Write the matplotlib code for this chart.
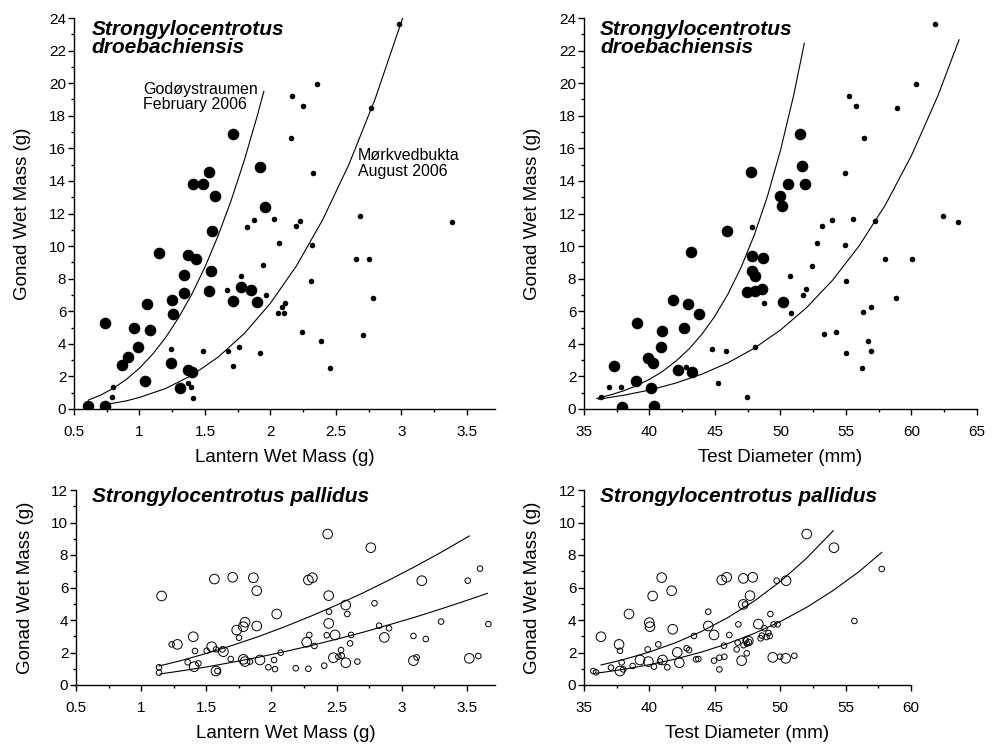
import matplotlib
matplotlib.use("Agg")
import matplotlib.pyplot as plt
from matplotlib.ticker import MultipleLocator, FuncFormatter

plt.rcParams['font.family'] = ['Liberation Sans', 'DejaVu Sans']

# ---- S. droebachiensis, lantern wet mass (g) vs gonad wet mass (g)
# Godøystraumen (large dots)
lan_god = [0.61, 0.737, 0.737, 0.87, 0.91, 0.958, 0.991, 1.06, 1.083, 1.044, 1.151, 1.238,
           1.248, 1.256, 1.309, 1.342, 1.342, 1.373, 1.429, 1.373, 1.398, 1.406, 1.487, 1.533,
           1.576, 1.556, 1.543, 1.528, 1.716, 1.716, 1.779, 1.848, 1.901, 1.922, 1.955]
gon_god_l = [0.16, 0.2, 5.3, 2.7, 3.17, 4.95, 3.82, 6.44, 4.83, 1.7, 9.6, 2.8,
             6.69, 5.82, 1.3, 7.15, 8.2, 9.47, 9.22, 2.39, 2.29, 13.8, 13.8, 14.54,
             13.05, 10.9, 8.47, 7.24, 16.87, 6.65, 7.48, 7.28, 6.56, 14.88, 12.42]
# Mørkvedbukta (small dots)
lan_mor = [0.8, 0.793, 1.238, 1.373, 1.39, 1.41, 1.487, 1.665, 1.678, 1.716, 1.759, 1.774,
           1.823, 1.875, 1.945, 1.92, 1.965, 2.025, 2.065, 2.057, 2.105, 2.086, 2.111, 2.983,
           2.353, 2.167, 2.25, 2.765, 2.157, 2.322, 2.192, 2.225, 2.683, 3.388, 2.314, 2.653,
           2.754, 2.307, 2.785, 2.238, 2.704, 2.386, 2.454]
gon_mor_l = [1.37, 0.75, 3.68, 1.58, 1.33, 0.65, 3.58, 7.32, 3.58, 2.62, 3.78, 8.14,
             11.15, 11.62, 8.81, 3.46, 6.97, 11.66, 10.18, 5.89, 5.89, 6.24, 6.5, 23.64,
             19.94, 19.22, 18.61, 18.47, 16.63, 14.48, 11.25, 11.57, 11.86, 11.47, 10.08, 9.22,
             9.22, 7.87, 6.81, 4.70, 4.56, 4.15, 2.52]
# fitted curves
fit_god_lx = [0.61, 0.7, 0.8, 0.9, 1.0, 1.1, 1.2, 1.3, 1.4, 1.5, 1.6, 1.7, 1.8, 1.9, 1.95]
fit_god_ly = [0.55, 0.84, 1.27, 1.82, 2.51, 3.36, 4.39, 5.62, 7.05, 8.71, 10.63, 12.8,
              15.25, 18.01, 19.5]
fit_mor_lx = [0.74, 0.9, 1.0, 1.2, 1.4, 1.6, 1.8, 2.0, 2.2, 2.4, 2.6, 2.8, 3.01]
fit_mor_ly = [0.27, 0.5, 0.71, 1.26, 2.07, 3.18, 4.63, 6.49, 8.8, 11.63, 15.02, 19.04, 24.0]

# ---- S. droebachiensis, test diameter (mm)
td_god = [37.31, 37.88, 39.07, 38.97, 39.91, 40.29, 40.11, 40.37, 40.93, 40.88, 41.82, 42.96,
          43.78, 42.66, 42.15, 43.22, 43.14, 45.89, 47.75, 47.47, 47.8, 48.64, 47.85, 48.05,
          48.05, 48.56, 50.17, 51.49, 51.66, 50.6, 51.87, 50.0, 50.14]
gon_god_t = [2.65, 0.14, 5.29, 1.71, 3.14, 2.8, 1.31, 0.2, 4.8, 3.82, 6.69, 6.42,
             5.81, 4.95, 2.39, 2.27, 9.61, 10.94, 14.54, 7.16, 9.4, 9.26, 8.44, 8.18,
             7.22, 7.36, 6.55, 16.87, 14.89, 13.8, 13.8, 13.05, 12.43]
td_mor = [36.3, 36.91, 37.8, 42.79, 44.75, 45.84, 45.25, 47.42, 47.8, 48.76, 48.05, 50.73,
          50.8, 51.74, 51.95, 52.38, 52.81, 53.19, 53.91, 53.35, 54.24, 54.92, 54.92, 55.0,
          55.0, 55.25, 55.76, 55.56, 56.37, 56.27, 56.7, 56.88, 56.91, 56.24, 57.21, 57.98,
          58.87, 58.79, 60.01, 60.32, 61.79, 62.38, 63.57]
gon_mor_t = [0.76, 1.33, 1.33, 2.6, 3.66, 3.58, 1.6, 0.72, 11.15, 6.5, 3.78, 8.14,
             5.89, 6.97, 7.38, 8.75, 10.18, 11.25, 11.62, 4.6, 4.7, 14.48, 10.08, 7.87,
             3.44, 19.22, 18.61, 11.66, 16.63, 5.93, 4.15, 6.24, 3.54, 2.52, 11.57, 9.22,
             18.47, 6.81, 9.22, 19.94, 23.64, 11.86, 11.47]
fit_god_tx = [35.97, 37, 38, 39, 40, 41, 42, 43, 44, 45, 46, 47, 48, 49, 50, 51, 51.82]
fit_god_ty = [0.65, 0.86, 1.11, 1.43, 1.82, 2.31, 2.93, 3.67, 4.59, 5.71, 7.07, 8.71,
              10.68, 13.05, 15.88, 19.24, 22.45]
fit_mor_tx = [36.1, 38, 40, 42, 44, 46, 48, 50, 52, 54, 56, 58, 60, 62, 63.63]
fit_mor_ty = [0.6, 0.84, 1.16, 1.59, 2.14, 2.84, 3.73, 4.85, 6.23, 7.93, 10.01, 12.52,
              15.56, 19.2, 22.66]

# ---- S. pallidus, lantern wet mass (g)
pl_lan_big = [1.157, 1.562, 1.702, 1.861, 1.887, 2.04, 1.797, 1.784, 1.733, 1.887, 1.4, 1.278,
              1.541, 1.631, 1.406, 1.784, 1.797, 1.912, 1.574, 2.27, 2.283, 2.314, 2.431, 2.762,
              3.153, 2.439, 2.57, 2.439, 2.488, 2.866, 2.475, 2.57, 3.089, 3.518]
pl_gon_big_l = [5.48, 6.52, 6.63, 6.6, 5.8, 4.37, 3.86, 3.59, 3.38, 3.63, 2.97, 2.5,
                2.36, 2.05, 1.13, 1.58, 1.44, 1.54, 0.86, 2.63, 6.46, 6.6, 9.29, 8.45,
                6.42, 5.5, 4.92, 3.79, 3.08, 2.93, 1.68, 1.37, 1.5, 1.64]
pl_lan_small = [1.234, 1.413, 1.503, 1.574, 1.623, 1.751, 1.687, 1.357, 1.439, 1.835, 2.02, 2.071,
                1.976, 2.027, 2.186, 2.283, 1.137, 1.137, 1.585, 3.6, 3.506, 2.79, 2.442, 2.582,
                2.826, 2.902, 2.29, 2.424, 2.611, 3.301, 3.664, 3.089, 3.184, 2.329, 2.603, 2.534,
                2.513, 2.539, 2.659, 2.405, 3.114, 3.587]
pl_gon_small_l = [2.5, 2.09, 2.11, 2.19, 2.19, 2.91, 1.6, 1.4, 1.33, 1.44, 1.54, 1.99,
                  1.09, 0.98, 1.03, 1.0, 1.09, 0.76, 0.86, 7.16, 6.42, 5.03, 4.51, 4.37,
                  3.65, 3.49, 3.08, 3.06, 3.08, 3.9, 3.75, 3.02, 2.83, 2.4, 2.56, 2.15,
                  1.74, 1.8, 1.44, 1.19, 1.7, 1.78]
pl_fit_a_lx = [1.137, 1.3, 1.5, 1.7, 1.9, 2.1, 2.3, 2.5, 2.7, 2.9, 3.1, 3.3, 3.518]
pl_fit_a_ly = [1.17, 1.49, 1.94, 2.44, 2.98, 3.58, 4.23, 4.92, 5.66, 6.45, 7.28, 8.16, 9.17]
pl_fit_b_lx = [1.145, 1.3, 1.5, 1.7, 1.9, 2.1, 2.3, 2.5, 2.7, 2.9, 3.1, 3.3, 3.5, 3.657]
pl_fit_b_ly = [0.68, 0.86, 1.11, 1.4, 1.71, 2.05, 2.42, 2.82, 3.24, 3.7, 4.17, 4.68, 5.21, 5.64]

# ---- S. pallidus, test diameter (mm)
pl_td_big = [36.3, 37.68, 37.75, 38.44, 39.28, 39.92, 39.99, 40.05, 40.25, 40.94, 41.01, 41.7,
             41.78, 42.13, 42.29, 44.5, 44.94, 45.53, 45.91, 47.18, 47.9, 47.69, 47.18, 48.33,
             47.56, 47.05, 49.43, 50.42, 50.45, 52.03, 54.11]
pl_gon_big_t = [2.97, 2.5, 0.86, 4.37, 1.54, 1.44, 3.84, 3.59, 5.48, 6.61, 1.54, 5.8,
                3.43, 2.01, 1.37, 3.63, 3.08, 6.46, 6.63, 6.56, 6.63, 5.5, 4.96, 3.75,
                2.71, 1.5, 1.7, 1.64, 6.42, 9.29, 8.45]
pl_td_small = [35.71, 35.92, 37.06, 37.75, 37.88, 38.0, 38.72, 39.87, 40.35, 40.68, 40.81, 41.37,
               42.85, 43.03, 43.41, 43.56, 43.74, 44.5, 44.94, 45.35, 45.35, 45.73, 45.7, 46.11,
               46.67, 46.8, 46.75, 47.2, 47.35, 47.45, 47.6, 47.31, 47.44, 48.5, 48.6, 48.8,
               49.2, 49.5, 49.25, 49.73, 51.08, 50.0, 57.76, 55.67, 49.8, 48.95, 49.1]
pl_gon_small_t = [0.86, 0.78, 1.07, 2.11, 1.39, 0.96, 1.17, 2.19, 1.13, 2.5, 1.44, 1.09,
                  2.26, 2.15, 3.02, 1.58, 1.6, 4.51, 1.5, 1.68, 0.96, 1.74, 2.42, 3.08,
                  2.19, 3.73, 2.61, 2.45, 2.75, 2.55, 2.65, 4.96, 1.95, 2.87, 3.04, 3.49,
                  3.02, 3.73, 4.37, 6.42, 1.8, 1.74, 7.14, 3.94, 3.73, 2.95, 3.2]
pl_fit_a_tx = [36.3, 38, 40, 42, 44, 46, 48, 50, 52, 54.06]
pl_fit_a_ty = [1.23, 1.56, 2.03, 2.6, 3.3, 4.15, 5.16, 6.36, 7.79, 9.5]
pl_fit_b_tx = [35.92, 38, 40, 42, 44, 46, 48, 50, 52, 54, 56, 57.76]
pl_fit_b_ty = [0.72, 0.96, 1.25, 1.6, 2.03, 2.55, 3.17, 3.9, 4.77, 5.79, 6.96, 8.16]

W, H = 995, 745
fig = plt.figure(figsize=(W / 100, H / 100), dpi=100)


def make_axes(left, right, top, bottom):
    return fig.add_axes([left / W, (H - bottom) / H, (right - left) / W, (bottom - top) / H])


def style(ax, xlim, ylim, xmaj, ymaj, xlabel, ylabel_x, title, title_x, title_y):
    ax.set_xlim(*xlim)
    ax.set_ylim(*ylim)
    for s in ("top", "right"):
        ax.spines[s].set_visible(False)
    for s in ("left", "bottom"):
        ax.spines[s].set_linewidth(1.0)
    ax.xaxis.set_major_locator(MultipleLocator(xmaj))
    ax.xaxis.set_minor_locator(MultipleLocator(xmaj / 2))
    ax.yaxis.set_major_locator(MultipleLocator(ymaj))
    ax.yaxis.set_minor_locator(MultipleLocator(ymaj / 2))
    ax.xaxis.set_major_formatter(FuncFormatter(lambda v, p: "%g" % v))
    ax.tick_params(which="major", direction="out", length=4, width=1, labelsize=11)
    ax.tick_params(which="minor", direction="out", length=2.5, width=1)
    ax.tick_params(axis="x", which="major", pad=7.5)
    ax.tick_params(axis="y", which="major", pad=1.5)
    ax.set_xlabel(xlabel, fontsize=13.5, labelpad=7)
    ax.set_ylabel("Gonad Wet Mass (g)", fontsize=13.5)
    ax.yaxis.set_label_coords(ylabel_x, 0.5)
    ax.text(title_x, title_y, title, transform=ax.transAxes, ha="left", va="top",
            fontsize=15, fontweight="bold", fontstyle="italic", linespacing=0.92)


line_kw = dict(color="black", lw=0.8)
big_fill = dict(s=70, color="black", linewidths=0, zorder=3)
small_fill = dict(s=16, color="black", linewidths=0, zorder=3)
big_open = dict(s=48, facecolors="none", edgecolors="black", linewidths=0.7, zorder=3)
small_open = dict(s=16, facecolors="none", edgecolors="black", linewidths=0.7, zorder=3)

# top left
ax1 = make_axes(74, 495, 18, 409)
ax1.plot(fit_god_lx, fit_god_ly, **line_kw)
ax1.plot(fit_mor_lx, fit_mor_ly, **line_kw)
ax1.scatter(lan_god, gon_god_l, **big_fill)
ax1.scatter(lan_mor, gon_mor_l, **small_fill)
style(ax1, (0.5, 3.715), (0, 24), 0.5, 2, "Lantern Wet Mass (g)", -0.101,
      "Strongylocentrotus\ndroebachiensis", 0.042, 0.995)
ax1.text(1.03, 20.1, "Godøystraumen\nFebruary 2006", fontsize=11.5, ha="left", va="top",
         linespacing=1.05)
ax1.text(2.67, 16.0, "Mørkvedbukta\nAugust 2006", fontsize=11.5, ha="left", va="top",
         linespacing=1.05)

# top right
ax2 = make_axes(584, 977, 18, 409)
ax2.plot(fit_god_tx, fit_god_ty, **line_kw)
ax2.plot(fit_mor_tx, fit_mor_ty, **line_kw)
ax2.scatter(td_god, gon_god_t, **big_fill)
ax2.scatter(td_mor, gon_mor_t, **small_fill)
style(ax2, (35, 65), (0, 24), 5, 2, "Test Diameter (mm)", -0.11,
      "Strongylocentrotus\ndroebachiensis", 0.041, 0.995)

# bottom left
ax3 = make_axes(76, 495, 490, 685)
ax3.plot(pl_fit_a_lx, pl_fit_a_ly, **line_kw)
ax3.plot(pl_fit_b_lx, pl_fit_b_ly, **line_kw)
ax3.scatter(pl_lan_big, pl_gon_big_l, **big_open)
ax3.scatter(pl_lan_small, pl_gon_small_l, **small_open)
style(ax3, (0.5, 3.715), (0, 12), 0.5, 2, "Lantern Wet Mass (g)", -0.101,
      "Strongylocentrotus pallidus", 0.038, 1.015)

# bottom right
ax4 = make_axes(584, 911, 490, 685)
ax4.plot(pl_fit_a_tx, pl_fit_a_ty, **line_kw)
ax4.plot(pl_fit_b_tx, pl_fit_b_ty, **line_kw)
ax4.scatter(pl_td_big, pl_gon_big_t, **big_open)
ax4.scatter(pl_td_small, pl_gon_small_t, **small_open)
style(ax4, (35, 60), (0, 12), 5, 2, "Test Diameter (mm)", -0.133,
      "Strongylocentrotus pallidus", 0.049, 1.015)

fig.savefig("out.png", dpi=100)
